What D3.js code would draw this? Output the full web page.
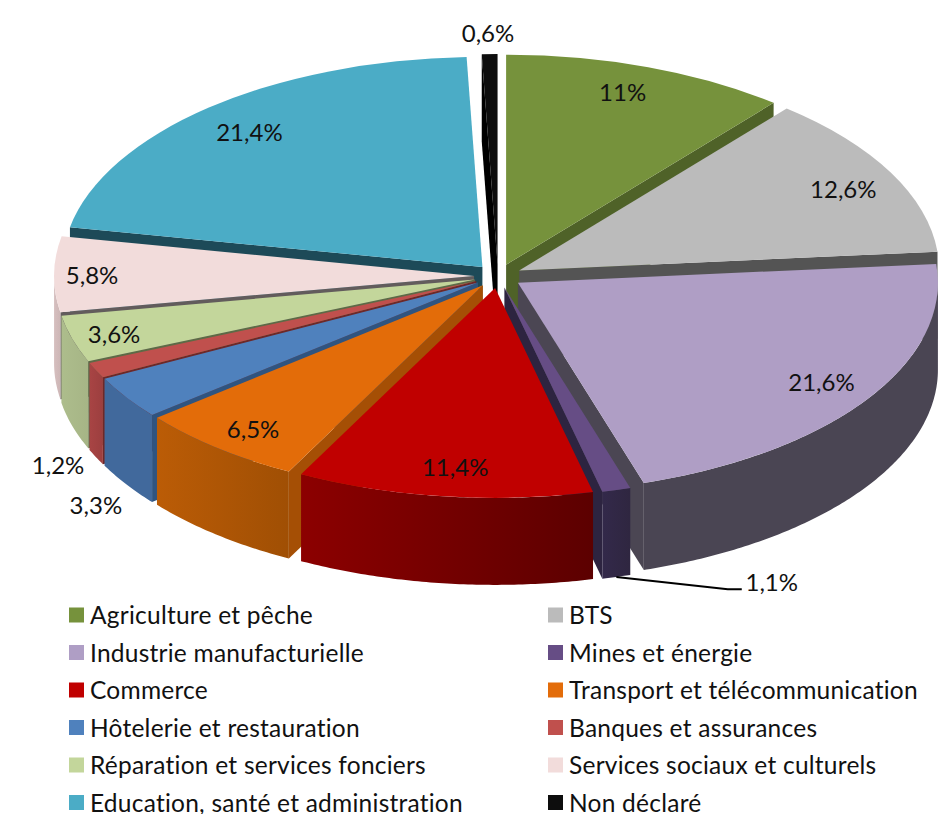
<!DOCTYPE html>
<html lang="fr">
<head>
<meta charset="utf-8">
<script src="https://cdn.jsdelivr.net/npm/d3@7"></script>
<style>
	body { margin: 0; background: #fff; }
	text { font-family: Lato, "Open Sans", sans-serif; fill: #111; font-variant-ligatures: none; }
</style>
</head>
<body>
<svg id="svg" width="948" height="814"></svg>
<script>
// data
const sectors = ['Agriculture et pêche', 'BTS', 'Industrie manufacturielle', 'Mines et énergie',
	'Commerce', 'Transport et télécommunication', 'Hôtelerie et restauration', 'Banques et assurances',
	'Réparation et services fonciers', 'Services sociaux et culturels',
	'Education, santé et administration', 'Non déclaré'];
const shares = [11, 12.6, 21.6, 1.1, 11.4, 6.5, 3.3, 1.2, 3.6, 5.8, 21.4, 0.6];
const shareLabels = ['11%', '12,6%', '21,6%', '1,1%', '11,4%', '6,5%', '3,3%', '1,2%', '3,6%', '5,8%', '21,4%', '0,6%'];

// colours: top of the slice, outer wall (left, right), cut face
const topColors = ['#76923c', '#bbbbbb', '#af9ec5', '#664d85', '#c00000', '#e36c09', '#4f81bd', '#c0504d', '#c3d69b', '#f2dcdb', '#4bacc6', '#0d0d0d'];
const wallLeft = ['#4f6228', '#555555', '#4a4553', '#33294a', '#8c0000', '#bb5c06', '#41699c', '#a84444', '#adbd8c', '#d6bfbf', '#2f7f95', '#0d0d0d'];
const wallRight = ['#4f6228', '#555555', '#4a4553', '#2f2640', '#5c0000', '#a04f04', '#41699c', '#9c3f3f', '#a6b586', '#cdb6b6', '#2f7f95', '#0d0d0d'];
const faceColors = ['#4f6228', '#545454', '#4b4653', '#2d2440', '#7f0000', '#a54f05', '#2f5480', '#6e2828', '#5d6b46', '#625c5c', '#1d4a58', '#000000'];

// label shift from the default spot on the slice (Excel moved them around by hand)
const labelNudge = [[17, -35], [64, -13], [59, 17], [189, 152], [-4, 33], [-44, 29], [-136, 142], [-152, 121], [-79, 12], [-88, 0], [-41.5, -24], [-4, -85]];

// pie geometry
const cx = 498, cy = 276;
const rx = 420, ry = 210;
const depth = 87;
const explode = 0.057; // fraction of radius

const svg = d3.select('#svg');
const defs = svg.append('defs');
const chart = svg.append('g');

const pie = d3.pie().sort(null).value(d => d);
const slices = pie(shares).map((s, i) => {
	s.i = i;
	s.mid = (s.startAngle + s.endAngle) / 2;
	s.ax = cx + explode * rx * Math.sin(s.mid);
	s.ay = cy - explode * ry * Math.cos(s.mid);
	return s;
});

const arcTop = d3.arc().innerRadius(0).outerRadius(rx);
const line = d3.line();
const rimX = a => rx * Math.sin(a);
const rimY = a => -ry * Math.cos(a);
const wallArea = d3.area().x(rimX).y0(rimY).y1(a => rimY(a) + depth);

function cutFace(angle) {
	return line([[0, 0], [rimX(angle), rimY(angle)], [rimX(angle), rimY(angle) + depth], [0, depth]]) + 'Z';
}

// paint from the back of the pie to the front
const ordered = slices.slice().sort((a, b) => Math.cos(b.mid) - Math.cos(a.mid));

ordered.forEach(s => {
	const g = chart.append('g').attr('transform', `translate(${s.ax},${s.ay})`);

	// radial cuts, only those turned to the viewer
	if (Math.sin(s.endAngle) > 0) g.append('path').attr('d', cutFace(s.endAngle)).attr('fill', faceColors[s.i]);
	if (Math.sin(s.startAngle) < 0) g.append('path').attr('d', cutFace(s.startAngle)).attr('fill', faceColors[s.i]);

	// outer wall: the part of the rim on the front half
	const a0 = Math.max(s.startAngle, Math.PI / 2), a1 = Math.min(s.endAngle, 3 * Math.PI / 2);
	if (a1 > a0) {
		const grad = defs.append('linearGradient').attr('id', 'wall' + s.i);
		grad.append('stop').attr('offset', 0).attr('stop-color', wallLeft[s.i]);
		grad.append('stop').attr('offset', 1).attr('stop-color', wallRight[s.i]);
		g.append('path')
			.attr('d', wallArea(d3.range(a0, a1, 0.01).concat(a1)))
			.attr('fill', `url(#wall${s.i})`);
	}

	g.append('path')
		.attr('transform', `scale(1,${ry / rx})`)
		.attr('d', arcTop(s))
		.attr('fill', topColors[s.i]);
});

// data labels
const labelAt = s => [
	s.ax + 0.7 * rimX(s.mid) + labelNudge[s.i][0],
	s.ay + 0.7 * rimY(s.mid) + labelNudge[s.i][1]
];

svg.append('g').selectAll('text')
	.data(slices)
	.enter().append('text')
	.attr('x', d => labelAt(d)[0])
	.attr('y', d => labelAt(d)[1])
	.attr('text-anchor', 'middle')
	.attr('dominant-baseline', 'central')
	.attr('font-size', 24)
	.text(d => shareLabels[d.i]);

// leader line of the mines slice
const mines = slices[3];
const minesLabel = labelAt(mines);
svg.append('path')
	.attr('d', line([
		[mines.ax + rimX(mines.mid), mines.ay + rimY(mines.mid) + depth],
		[minesLabel[0] - 44, minesLabel[1] + 8],
		[minesLabel[0] - 30, minesLabel[1] + 8]
	]))
	.attr('fill', 'none')
	.attr('stroke', '#000')
	.attr('stroke-width', 2);

// legend, two columns filled row by row
const rowY = d3.scalePoint().domain(d3.range(6)).range([614.5, 802]);
const colX = d3.scalePoint().domain([0, 1]).range([69, 548]);

const legend = svg.append('g').selectAll('g')
	.data(sectors)
	.enter().append('g')
	.attr('transform', (d, i) => `translate(${colX(i % 2)},${rowY(Math.floor(i / 2))})`);

legend.append('rect')
	.attr('x', 0).attr('y', -7)
	.attr('width', 15).attr('height', 15)
	.attr('fill', (d, i) => topColors[i]);

legend.append('text')
	.attr('x', 21)
	.attr('dominant-baseline', 'central')
	.attr('font-size', 24.5)
	.attr('letter-spacing', 0.24)
	.text(d => d);
</script>
</body>
</html>
